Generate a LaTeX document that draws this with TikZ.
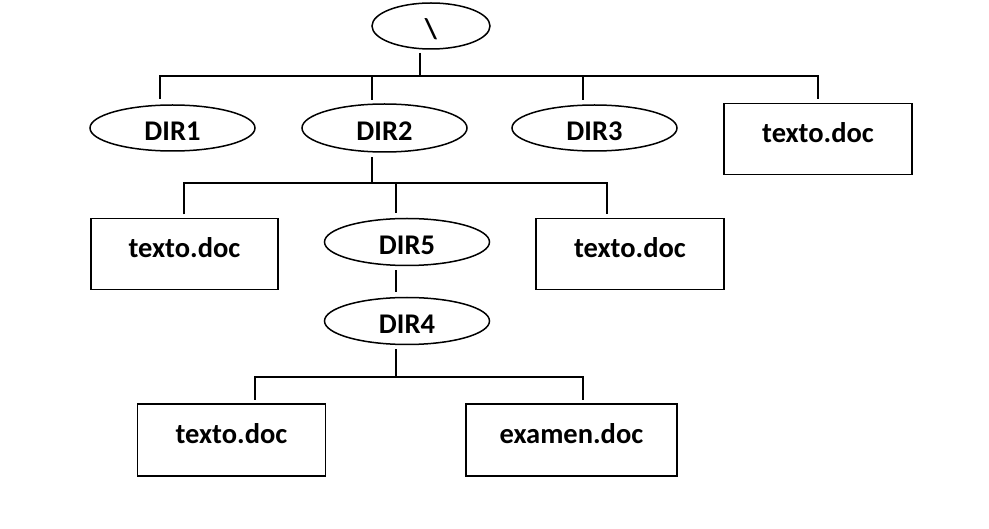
\documentclass[tikz,border=0pt]{standalone}
\usepackage{fontspec}
\setmainfont{Carlito}
\usetikzlibrary{shapes.geometric,calc}
\tikzset{
  dirnode/.style={draw, ellipse, line width=1.5pt, inner sep=0pt, outer sep=0pt,
    minimum width=165pt, minimum height=46pt, font=\fontsize{28.5}{33}\selectfont\bfseries,
    text height=25.4pt, text depth=0pt},
  filenode/.style={draw, rectangle, line width=1.5pt, inner sep=0pt, outer sep=0pt,
    minimum width=188pt, minimum height=71pt, font=\fontsize{28.5}{33}\selectfont\bfseries,
    text height=18.4pt, text depth=12pt},
  conn/.style={line width=1.5pt}
}
\begin{document}
\begin{tikzpicture}[x=1pt,y=-1pt]
\useasboundingbox[fill=white] (0,0) rectangle (989,529);
% nodes
\node[dirnode, minimum width=118pt, minimum height=46pt] (root) at (431,26) {\textbackslash};
\node[dirnode] (dir1) at (172.5,128) {DIR1};
\node[dirnode, minimum height=48pt] (dir2) at (384.5,128) {DIR2};
\node[dirnode] (dir3) at (594.5,128) {DIR3};
\node[filenode] (box0) at (818,139) {texto.doc};
\node[filenode, minimum width=187pt] (boxL) at (184.5,254) {texto.doc};
\node[dirnode, minimum height=47pt] (dir5) at (407,242) {DIR5};
\node[filenode] (boxR) at (630,254) {texto.doc};
\node[dirnode, minimum height=47pt] (dir4) at (407,321) {DIR4};
\node[filenode, minimum height=72pt] (boxLL) at (231.5,440) {texto.doc};
\node[filenode, minimum width=211pt, minimum height=72pt] (boxLR) at (571.5,440) {examen.doc};
% junction coordinates
\coordinate (t1) at (420,76);
\coordinate (a1) at (160,76);
\coordinate (a2) at (372,76);
\coordinate (a3) at (583,76);
\coordinate (a4) at (818,76);
\coordinate (c0) at (372,183);
\coordinate (c1) at (184,183);
\coordinate (c2) at (396,183);
\coordinate (c3) at (607,183);
\coordinate (e0) at (396,377);
\coordinate (e1) at (255,377);
\coordinate (e2) at (583,377);
% level 1
\draw[conn] ($(root.south -| t1)+(0,4)$) -- (t1);
\draw[conn] ($(a1 |- dir1.north)+(0,-6)$) -- (a1) -- (a4) -- ($(a4 |- box0.north)+(0,-4.5)$);
\draw[conn] (a2) -- ($(a2 |- dir2.north)+(0,-4)$);
\draw[conn] (a3) -- ($(a3 |- dir3.north)+(0,-5)$);
% level 2
\draw[conn] ($(dir2.south -| c0)+(0,5)$) -- (c0);
\draw[conn] ($(c1 |- boxL.north)+(0,-4)$) -- (c1) -- (c3) -- ($(c3 |- boxR.north)+(0,-4)$);
\draw[conn] (c2) -- ($(c2 |- dir5.north)+(0,-5)$);
\draw[conn] ($(dir5.south -| c2)+(0,5)$) -- ($(dir4.north -| c2)+(0,-5)$);
% level 3
\draw[conn] ($(dir4.south -| e0)+(0,5)$) -- (e0);
\draw[conn] ($(e1 |- boxLL.north)+(0,-4)$) -- (e1) -- (e2) -- ($(e2 |- boxLR.north)+(0,-4)$);
\end{tikzpicture}
\end{document}
